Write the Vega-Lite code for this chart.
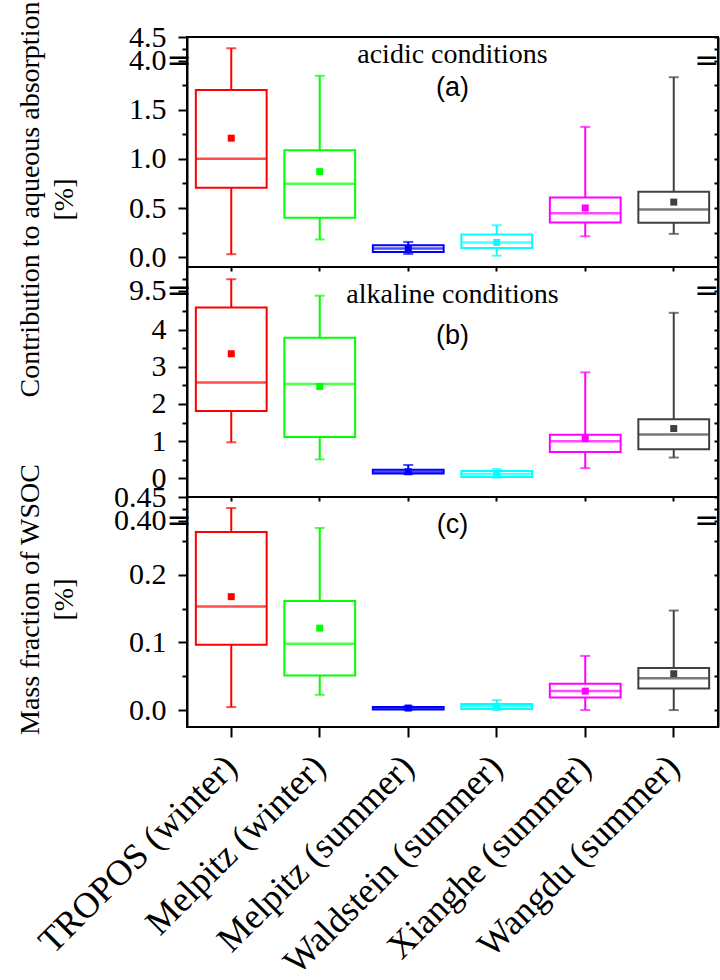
{
  "$schema": "https://vega.github.io/schema/vega-lite/v6.json",
  "background": "white",
  "padding": {"left": 14, "top": 0, "right": 0, "bottom": 0},
  "spacing": 0,
  "bounds": "flush",
  "config": {
    "view": {"stroke": "black", "strokeWidth": 2},
    "axis": {"grid": false, "domainColor": "black", "domainWidth": 2, "tickColor": "black", "tickWidth": 2, "labelColor": "black", "labelFont": "Liberation Serif", "labelFontSize": 30, "titleFont": "Liberation Serif", "titleFontSize": 28, "titleFontWeight": "normal", "titleColor": "black", "labelOverlap": false, "labelFlush": false, "labelBound": false},
    "title": {"color": "black", "subtitleColor": "black", "fontWeight": "normal", "subtitleFontWeight": "normal", "anchor": "middle", "frame": "group"}
  },
  "datasets": {
    "box": [
      {"panel": "a", "site": "TROPOS (winter)", "lo": 0.03, "q1": 0.706, "med": 1.0, "q3": 1.70, "hi": 4.26, "mean": 1.21},
      {"panel": "a", "site": "Melpitz (winter)", "lo": 0.18, "q1": 0.40, "med": 0.747, "q3": 1.087, "hi": 1.845, "mean": 0.87},
      {"panel": "a", "site": "Melpitz (summer)", "lo": 0.033, "q1": 0.053, "med": 0.087, "q3": 0.12, "hi": 0.155, "mean": 0.085},
      {"panel": "a", "site": "Waldstein (summer)", "lo": 0.015, "q1": 0.094, "med": 0.15, "q3": 0.23, "hi": 0.325, "mean": 0.15},
      {"panel": "a", "site": "Xianghe (summer)", "lo": 0.212, "q1": 0.352, "med": 0.447, "q3": 0.607, "hi": 1.325, "mean": 0.50},
      {"panel": "a", "site": "Wangdu (summer)", "lo": 0.237, "q1": 0.349, "med": 0.485, "q3": 0.665, "hi": 1.83, "mean": 0.56},
      {"panel": "b", "site": "TROPOS (winter)", "lo": 0.97, "q1": 1.81, "med": 2.58, "q3": 4.59, "hi": 9.74, "mean": 3.35},
      {"panel": "b", "site": "Melpitz (winter)", "lo": 0.51, "q1": 1.11, "med": 2.54, "q3": 3.78, "hi": 4.91, "mean": 2.47},
      {"panel": "b", "site": "Melpitz (summer)", "lo": 0.115, "q1": 0.13, "med": 0.18, "q3": 0.23, "hi": 0.36, "mean": 0.18},
      {"panel": "b", "site": "Waldstein (summer)", "lo": 0.02, "q1": 0.035, "med": 0.115, "q3": 0.2, "hi": 0.25, "mean": 0.11},
      {"panel": "b", "site": "Xianghe (summer)", "lo": 0.275, "q1": 0.71, "med": 1.0, "q3": 1.17, "hi": 2.85, "mean": 1.07},
      {"panel": "b", "site": "Wangdu (summer)", "lo": 0.56, "q1": 0.78, "med": 1.18, "q3": 1.59, "hi": 4.45, "mean": 1.34},
      {"panel": "c", "site": "TROPOS (winter)", "lo": 0.0044, "q1": 0.0965, "med": 0.153, "q3": 0.263, "hi": 0.4265, "mean": 0.1675},
      {"panel": "c", "site": "Melpitz (winter)", "lo": 0.0226, "q1": 0.051, "med": 0.098, "q3": 0.161, "hi": 0.269, "mean": 0.121},
      {"panel": "c", "site": "Melpitz (summer)", "lo": 0.0005, "q1": 0.001, "med": 0.003, "q3": 0.0045, "hi": 0.0055, "mean": 0.003},
      {"panel": "c", "site": "Waldstein (summer)", "lo": 0.0, "q1": 0.0015, "med": 0.006, "q3": 0.0089, "hi": 0.0148, "mean": 0.005},
      {"panel": "c", "site": "Xianghe (summer)", "lo": 0.0, "q1": 0.0187, "med": 0.028, "q3": 0.039, "hi": 0.080, "mean": 0.028},
      {"panel": "c", "site": "Wangdu (summer)", "lo": 0.0, "q1": 0.032, "med": 0.047, "q3": 0.062, "hi": 0.147, "mean": 0.0537}
    ]
  },
  "resolve": {"scale": {"y": "independent"}},
  "vconcat": [
    {
      "width": 531, "height": 230,
      "data": {"name": "box"},
      "transform": [{"filter": "datum.panel == 'a'"}],
      "title": {"text": "acidic conditions", "subtitle": "(a)", "font": "Liberation Serif", "fontSize": 28, "subtitleFont": "Liberation Sans", "subtitleFontSize": 27, "subtitlePadding": 6, "offset": -100},
      "encoding": {
        "x": {"field": "site", "type": "nominal", "scale": {"domain": ["TROPOS (winter)", "Melpitz (winter)", "Melpitz (summer)", "Waldstein (summer)", "Xianghe (summer)", "Wangdu (summer)"], "paddingInner": 0, "paddingOuter": 0}, "axis": {"labels": false, "title": null, "tickSize": 4, "domain": false}},
        "color": {"field": "site", "type": "nominal", "scale": {"domain": ["TROPOS (winter)", "Melpitz (winter)", "Melpitz (summer)", "Waldstein (summer)", "Xianghe (summer)", "Wangdu (summer)"], "range": ["#ff0000", "#00ff00", "#0000ff", "#00ffff", "#ff00ff", "#404040"]}, "legend": null}
      },
      "resolve": {"axis": {"y": "independent"}},
      "layer": [
        {"mark": {"type": "rule", "strokeWidth": 2},
         "encoding": {"y": {"field": "lo", "type": "quantitative",
            "scale": {"domain": [-0.1, 2.0, 4.0, 4.5], "range": [230, 23.5, 23.5, 0], "nice": false, "zero": false},
            "axis": {"orient": "left", "values": [0, 0.25, 0.5, 0.75, 1, 1.25, 1.5, 1.75, 3, 4, 4.25, 4.5],
              "labelExpr": "datum.value == 3 ? ' =' : ((datum.value * 4) % 2 == 1 ? '' : format(datum.value, '.1f'))",
              "tickSize": {"condition": {"test": "(datum.value * 4) % 2 == 1", "value": 5}, "value": 9},
              "tickOpacity": {"condition": {"test": "datum.value == 3", "value": 0}, "value": 1},
              "labelAlign": {"condition": {"test": "datum.value == 3", "value": "left"}, "value": "right"},
              "labelFont": {"condition": {"test": "datum.value == 3", "value": "DejaVu Sans"}, "value": "Liberation Serif"},
              "labelPadding": 12,
              "title": ["Contribution to aqueous absorption", "[%]"], "titleX": -143, "titleY": 162, "titleAngle": -90, "titleBaseline": "bottom", "titleAlign": "center", "titleLineHeight": 34}},
          "y2": {"field": "q1"}}},
        {"mark": {"type": "rule", "strokeWidth": 2},
         "encoding": {"y": {"field": "q3", "type": "quantitative",
            "axis": {"orient": "right", "values": [0, 0.25, 0.5, 0.75, 1, 1.25, 1.5, 1.75, 3, 4, 4.25, 4.5],
              "labelExpr": "datum.value == 3 ? '=' : ''", "tickSize": -4, "labelPadding": 5,
              "tickOpacity": {"condition": {"test": "datum.value == 3", "value": 0}, "value": 1},
              "labelAlign": "right", "labelFont": "DejaVu Sans", "labelFontSize": 30, "title": null}},
          "y2": {"field": "hi"}}},
        {"mark": {"type": "tick", "thickness": 2, "size": 10}, "encoding": {"y": {"field": "lo", "type": "quantitative", "axis": null}}},
        {"mark": {"type": "tick", "thickness": 2, "size": 10}, "encoding": {"y": {"field": "hi", "type": "quantitative", "axis": null}}},
        {"mark": {"type": "bar", "filled": false, "strokeWidth": 2, "width": {"band": 0.8}}, "encoding": {"y": {"field": "q1", "type": "quantitative", "axis": null}, "y2": {"field": "q3"}}},
        {"mark": {"type": "tick", "thickness": 2.5, "size": 70}, "encoding": {"y": {"field": "med", "type": "quantitative", "axis": null}}},
        {"mark": {"type": "point", "shape": "square", "filled": true, "size": 49, "opacity": 1}, "encoding": {"y": {"field": "mean", "type": "quantitative", "axis": null}}}
      ]
    },
    {
      "width": 531, "height": 230,
      "data": {"name": "box"},
      "transform": [{"filter": "datum.panel == 'b'"}],
      "title": {"text": "alkaline conditions", "subtitle": "(b)", "font": "Liberation Serif", "fontSize": 28, "subtitleFont": "Liberation Sans", "subtitleFontSize": 27, "subtitlePadding": 14, "offset": -85},
      "encoding": {
        "x": {"field": "site", "type": "nominal", "scale": {"domain": ["TROPOS (winter)", "Melpitz (winter)", "Melpitz (summer)", "Waldstein (summer)", "Xianghe (summer)", "Wangdu (summer)"], "paddingInner": 0, "paddingOuter": 0}, "axis": {"labels": false, "title": null, "tickSize": 4, "domain": false}},
        "color": {"field": "site", "type": "nominal", "scale": {"domain": ["TROPOS (winter)", "Melpitz (winter)", "Melpitz (summer)", "Waldstein (summer)", "Xianghe (summer)", "Wangdu (summer)"], "range": ["#ff0000", "#00ff00", "#0000ff", "#00ffff", "#ff00ff", "#404040"]}, "legend": null}
      },
      "resolve": {"axis": {"y": "independent"}},
      "layer": [
        {"mark": {"type": "rule", "strokeWidth": 2},
         "encoding": {"y": {"field": "lo", "type": "quantitative",
            "scale": {"domain": [-0.5, 5.05, 9.5, 10], "range": [230, 23.5, 23.5, 0], "nice": false, "zero": false},
            "axis": {"orient": "left", "values": [0, 0.5, 1, 1.5, 2, 2.5, 3, 3.5, 4, 4.5, 7, 9.5, 9.75],
              "labelExpr": "datum.value == 7 ? ' =' : (datum.value == 9.5 ? '9.5' : (datum.value % 1 == 0 ? format(datum.value, 'd') : ''))",
              "tickSize": {"condition": {"test": "datum.value % 1 != 0 && datum.value != 9.5", "value": 5}, "value": 9},
              "tickOpacity": {"condition": {"test": "datum.value == 7", "value": 0}, "value": 1},
              "labelAlign": {"condition": {"test": "datum.value == 7", "value": "left"}, "value": "right"},
              "labelFont": {"condition": {"test": "datum.value == 7", "value": "DejaVu Sans"}, "value": "Liberation Serif"},
              "labelPadding": 12, "title": null}},
          "y2": {"field": "q1"}}},
        {"mark": {"type": "rule", "strokeWidth": 2},
         "encoding": {"y": {"field": "q3", "type": "quantitative",
            "axis": {"orient": "right", "values": [0, 0.5, 1, 1.5, 2, 2.5, 3, 3.5, 4, 4.5, 7, 9.5, 9.75],
              "labelExpr": "datum.value == 7 ? '=' : ''", "tickSize": -4, "labelPadding": 5,
              "tickOpacity": {"condition": {"test": "datum.value == 7", "value": 0}, "value": 1},
              "labelAlign": "right", "labelFont": "DejaVu Sans", "labelFontSize": 30, "title": null}},
          "y2": {"field": "hi"}}},
        {"mark": {"type": "tick", "thickness": 2, "size": 10}, "encoding": {"y": {"field": "lo", "type": "quantitative", "axis": null}}},
        {"mark": {"type": "tick", "thickness": 2, "size": 10}, "encoding": {"y": {"field": "hi", "type": "quantitative", "axis": null}}},
        {"mark": {"type": "bar", "filled": false, "strokeWidth": 2, "width": {"band": 0.8}}, "encoding": {"y": {"field": "q1", "type": "quantitative", "axis": null}, "y2": {"field": "q3"}}},
        {"mark": {"type": "tick", "thickness": 2.5, "size": 70}, "encoding": {"y": {"field": "med", "type": "quantitative", "axis": null}}},
        {"mark": {"type": "point", "shape": "square", "filled": true, "size": 49, "opacity": 1}, "encoding": {"y": {"field": "mean", "type": "quantitative", "axis": null}}}
      ]
    },
    {
      "width": 531, "height": 230,
      "data": {"name": "box"},
      "transform": [{"filter": "datum.panel == 'c'"}],
      "title": {"text": "(c)", "font": "Liberation Sans", "fontSize": 27, "offset": -76},
      "encoding": {
        "x": {"field": "site", "type": "nominal", "scale": {"domain": ["TROPOS (winter)", "Melpitz (winter)", "Melpitz (summer)", "Waldstein (summer)", "Xianghe (summer)", "Wangdu (summer)"], "paddingInner": 0, "paddingOuter": 0}, "axis": {"title": null, "tickSize": 10, "labelAngle": -45, "labelFontSize": 36, "labelPadding": 24, "labelBaseline": "middle", "labelAlign": "right", "labelLimit": 600, "domain": false}},
        "color": {"field": "site", "type": "nominal", "scale": {"domain": ["TROPOS (winter)", "Melpitz (winter)", "Melpitz (summer)", "Waldstein (summer)", "Xianghe (summer)", "Wangdu (summer)"], "range": ["#ff0000", "#00ff00", "#0000ff", "#00ffff", "#ff00ff", "#404040"]}, "legend": null}
      },
      "resolve": {"axis": {"y": "independent"}},
      "layer": [
        {"mark": {"type": "rule", "strokeWidth": 2},
         "encoding": {"y": {"field": "lo", "type": "quantitative",
            "scale": {"domain": [-0.025, 0.28, 0.40, 0.45], "range": [230, 23.5, 23.5, 0], "nice": false, "zero": false},
            "axis": {"orient": "left", "values": [0, 0.05, 0.1, 0.15, 0.2, 0.25, 0.34, 0.4, 0.425, 0.45],
              "labelExpr": "datum.value == 0.34 ? ' =' : (datum.value == 0 ? '0.0' : (datum.value == 0.1 ? '0.1' : (datum.value == 0.2 ? '0.2' : (datum.value == 0.4 ? '0.40' : (datum.value == 0.45 ? '0.45' : '')))))",
              "tickSize": {"condition": {"test": "datum.value == 0.05 || datum.value == 0.15 || datum.value == 0.25 || datum.value == 0.425", "value": 5}, "value": 9},
              "tickOpacity": {"condition": {"test": "datum.value == 0.34", "value": 0}, "value": 1},
              "labelAlign": {"condition": {"test": "datum.value == 0.34", "value": "left"}, "value": "right"},
              "labelFont": {"condition": {"test": "datum.value == 0.34", "value": "DejaVu Sans"}, "value": "Liberation Serif"},
              "labelPadding": 12,
              "title": ["Mass fraction of WSOC", "[%]"], "titleX": -143, "titleY": 102, "titleAngle": -90, "titleBaseline": "bottom", "titleAlign": "center", "titleLineHeight": 34}},
          "y2": {"field": "q1"}}},
        {"mark": {"type": "rule", "strokeWidth": 2},
         "encoding": {"y": {"field": "q3", "type": "quantitative",
            "axis": {"orient": "right", "values": [0, 0.05, 0.1, 0.15, 0.2, 0.25, 0.34, 0.4, 0.425, 0.45],
              "labelExpr": "datum.value == 0.34 ? '=' : ''", "tickSize": -4, "labelPadding": 5,
              "tickOpacity": {"condition": {"test": "datum.value == 0.34", "value": 0}, "value": 1},
              "labelAlign": "right", "labelFont": "DejaVu Sans", "labelFontSize": 30, "title": null}},
          "y2": {"field": "hi"}}},
        {"mark": {"type": "tick", "thickness": 2, "size": 10}, "encoding": {"y": {"field": "lo", "type": "quantitative", "axis": null}}},
        {"mark": {"type": "tick", "thickness": 2, "size": 10}, "encoding": {"y": {"field": "hi", "type": "quantitative", "axis": null}}},
        {"mark": {"type": "bar", "filled": false, "strokeWidth": 2, "width": {"band": 0.8}}, "encoding": {"y": {"field": "q1", "type": "quantitative", "axis": null}, "y2": {"field": "q3"}}},
        {"mark": {"type": "tick", "thickness": 2.5, "size": 70}, "encoding": {"y": {"field": "med", "type": "quantitative", "axis": null}}},
        {"mark": {"type": "point", "shape": "square", "filled": true, "size": 49, "opacity": 1}, "encoding": {"y": {"field": "mean", "type": "quantitative", "axis": null}}}
      ]
    }
  ]
}
